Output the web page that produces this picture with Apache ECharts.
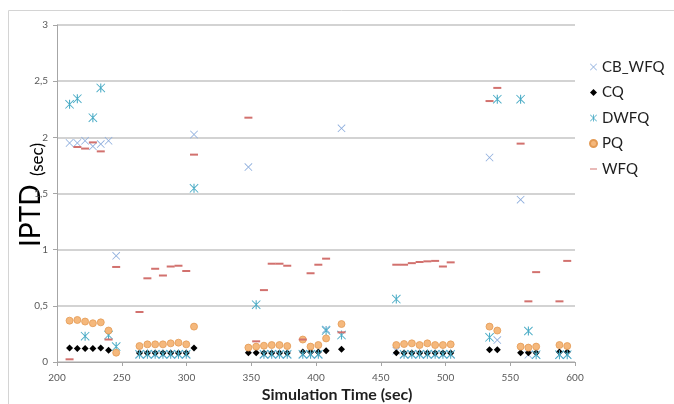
<!DOCTYPE html>
<html>
<head>
<meta charset="utf-8">
<script src="https://cdn.jsdelivr.net/npm/echarts@6/dist/echarts.min.js"></script>
<style>
body { margin: 0; background: #fff; }
#main { width: 674px; height: 404px; }
</style>
</head>
<body>
<div id="main"></div>
<script>
// simulation times (sec)
var times = [209.7,215.7,221.7,227.7,233.8,239.8,245.7,263.7,269.8,275.8,281.8,287.8,293.8,299.8,305.8,
  347.8,353.8,359.8,365.8,371.8,377.8,389.8,395.8,401.8,407.8,419.7,
  462,468,474,480,486,492,498,504,534,540,558,564,570,588,594];
var cbWfq = [1.95,1.95,1.97,1.92,1.94,1.97,0.945,0.065,0.065,0.065,0.065,0.065,0.065,0.065,2.025,
  1.735,null,0.065,0.065,0.065,0.065,0.065,0.065,0.065,0.29,2.08,
  0.1,0.065,0.065,0.065,0.065,0.065,0.065,0.065,1.82,0.195,1.445,0.065,0.065,0.065,0.065];
var cq = [0.125,0.12,0.12,0.12,0.125,0.105,null,0.08,0.08,0.08,0.08,0.08,0.08,0.08,0.125,
  0.083,0.083,0.08,0.08,0.08,0.08,0.09,0.09,0.09,0.1,0.113,
  0.083,0.08,0.08,0.08,0.08,0.08,0.08,0.08,0.11,0.11,0.083,0.083,0.083,0.09,0.09];
var dwfq = [2.294,2.344,0.23,2.175,2.44,0.24,0.137,0.07,0.07,0.07,0.07,0.07,0.07,0.07,1.546,
  null,0.51,0.07,0.07,0.07,0.07,0.07,0.07,0.07,0.28,0.24,
  0.56,0.07,0.07,0.07,0.07,0.07,0.07,0.07,0.22,2.34,2.34,0.276,0.065,0.065,0.065];
var pq = [0.368,0.374,0.36,0.345,0.353,0.28,0.083,0.142,0.157,0.157,0.157,0.166,0.172,0.157,0.315,
  0.128,0.137,0.145,0.151,0.151,0.142,0.2,0.137,0.151,0.21,0.338,
  0.151,0.16,0.166,0.151,0.166,0.151,0.151,0.157,0.315,0.28,0.137,0.128,0.137,0.151,0.142];
var wfq = [0.024,1.914,1.9,1.955,1.875,0.2,0.846,0.445,0.745,0.83,0.77,0.85,0.857,0.81,1.846,
  2.175,0.184,0.64,0.875,0.875,0.857,0.2,0.79,0.866,0.92,0.264,
  0.866,0.866,0.88,0.89,0.896,0.9,0.85,0.887,2.323,2.44,1.944,0.54,0.8,0.54,0.9];
var names = ['CB_WFQ','CQ','DWFQ','PQ','WFQ'];

var crossPath = 'path://M0,0.7L0.7,0L10,9.3L9.3,10ZM9.3,0L10,0.7L0.7,10L0,9.3Z';
var starPath = 'path://M0,0.7L0.7,0L10,9.3L9.3,10ZM9.3,0L10,0.7L0.7,10L0,9.3ZM4.4,0L5.6,0L5.6,10L4.4,10Z';
var dashPath = 'path://M0,4L10,4L10,5.6L0,5.6Z';
var dashIcon = 'path://M0,0M10,10M0,4.3L10,4.3L10,5.7L0,5.7Z';

function pts(ys) {
  var out = [];
  for (var i = 0; i < times.length; i++) {
    if (ys[i] != null) out.push([times[i], ys[i]]);
  }
  return out;
}

var font = 'Lato, "Open Sans", sans-serif';
var chart = echarts.init(document.getElementById('main'));
var option = {
  animation: false,
  grid: { left: 57, right: 99, top: 25, bottom: 42 },
  xAxis: {
    type: 'value', min: 200, max: 600, interval: 50,
    axisLine: { lineStyle: { color: '#a6a6a6' } },
    axisTick: { show: true, length: 4, lineStyle: { color: '#a6a6a6' } },
    axisLabel: { color: '#595959', fontSize: 10, fontFamily: font, margin: 11 },
    splitLine: { show: false }
  },
  yAxis: {
    type: 'value', min: 0, max: 3, interval: 0.5,
    axisLine: { show: true, lineStyle: { color: '#a6a6a6' } },
    axisTick: { show: true, length: 4, lineStyle: { color: '#a6a6a6' } },
    axisLabel: {
      color: '#595959', fontSize: 10, fontFamily: font, margin: 9,
      formatter: function (v) { return String(v).replace('.', ','); }
    },
    splitLine: { lineStyle: { color: '#c4c4c4', width: 1.5 } }
  },
  legend: {
    orient: 'vertical', left: 584, top: 53,
    itemWidth: 7, itemHeight: 7, itemGap: 7.5,
    textStyle: { fontSize: 15, fontFamily: font, color: '#1f1f1f', lineHeight: 18 },
    data: [
      { name: 'CB_WFQ' }, { name: 'CQ' }, { name: 'DWFQ' }, { name: 'PQ' },
      { name: 'WFQ', icon: dashIcon }
    ]
  },
  graphic: [
    { type: 'rect', shape: { x: 8.5, y: 10.5, width: 720, height: 440 }, style: { fill: 'none', stroke: '#d4d4d4', lineWidth: 1 }, z: -10 },
    {
      type: 'group', x: 45, y: 247, rotation: Math.PI / 2,
      children: [
        { type: 'text', x: 0, y: 0, style: { text: 'IPTD', font: '28px ' + font, fill: '#000', textAlign: 'left', textVerticalAlign: 'bottom' } },
        { type: 'text', x: 71, y: 1, style: { text: '(sec)', font: '17px ' + font, fill: '#000', textAlign: 'left', textVerticalAlign: 'bottom' } }
      ]
    },
    { type: 'text', x: 337, y: 395, style: { text: 'Simulation Time (sec)', font: 'bold 16px ' + font, fill: '#1f1f1f', textAlign: 'center', textVerticalAlign: 'middle' } }
  ],
  series: [
    { name: names[0], type: 'scatter', data: pts(cbWfq), symbol: crossPath, symbolSize: 8, itemStyle: { color: '#8eaedd', opacity: 1 } },
    { name: names[1], type: 'scatter', data: pts(cq), symbol: 'diamond', symbolSize: 7, itemStyle: { color: '#000', opacity: 1 } },
    { name: names[2], type: 'scatter', data: pts(dwfq), symbol: starPath, symbolSize: 9, itemStyle: { color: '#4bacc6', opacity: 1 } },
    { name: names[3], type: 'scatter', data: pts(pq), symbol: 'circle', symbolSize: 7, itemStyle: { color: '#f5b87c', borderColor: '#e39b55', borderWidth: 0.8, opacity: 1 } },
    { name: names[4], type: 'scatter', data: pts(wfq), symbol: dashPath, symbolSize: [8, 2], itemStyle: { color: '#d2716e', opacity: 1 } }
  ]
};
option && chart.setOption(option);
</script>
</body>
</html>
